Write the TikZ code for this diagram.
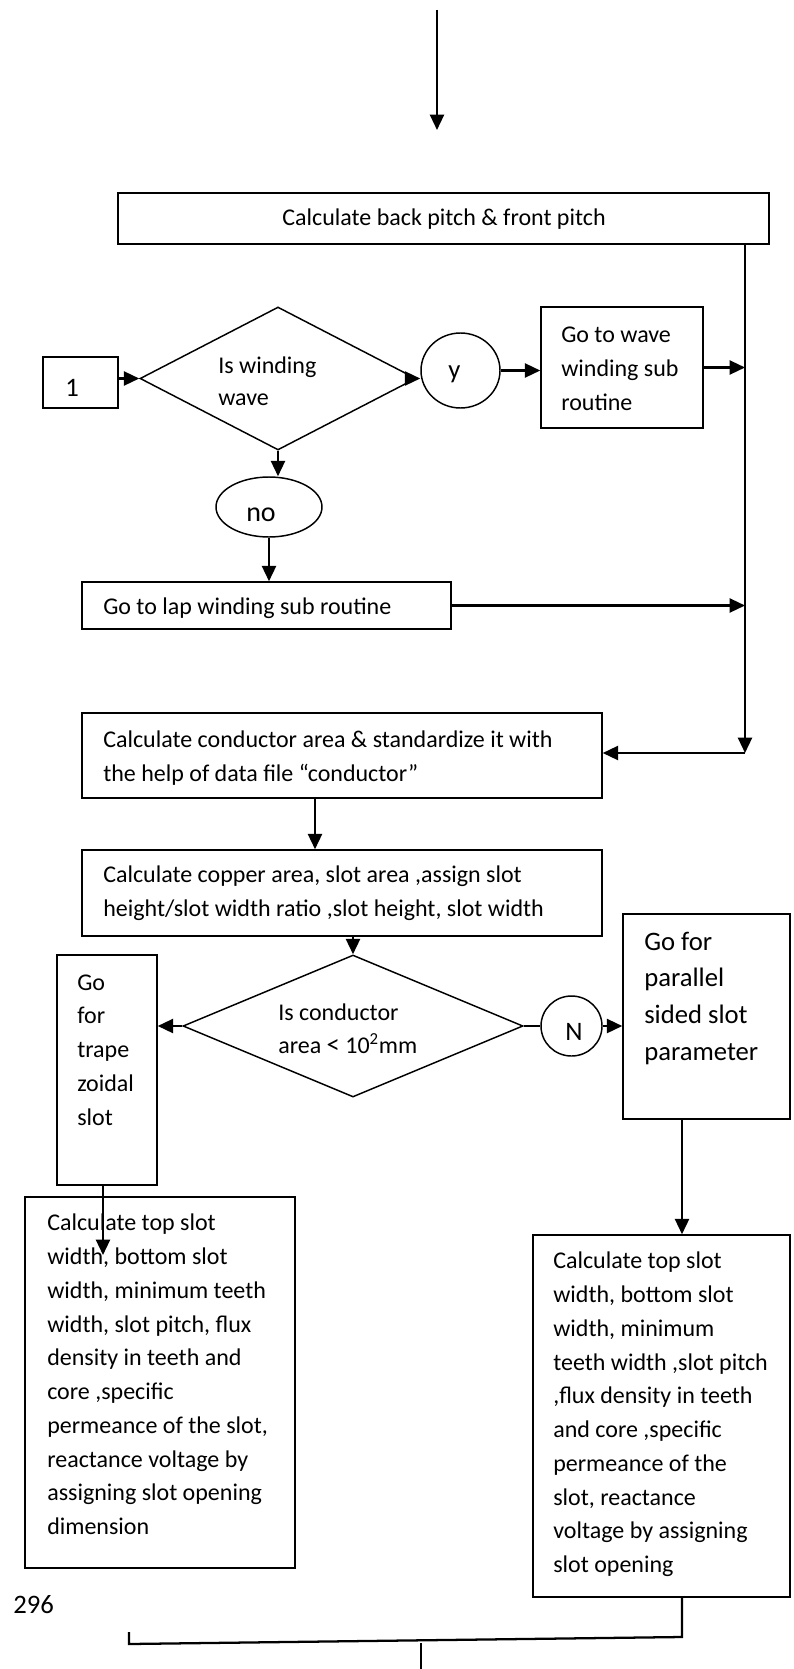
\documentclass[tikz,border=0pt]{standalone}
\usepackage{fontspec}
\setmainfont{Carlito}
\usetikzlibrary{arrows.meta,shapes.geometric}

\tikzset{
  box/.style={draw, line width=1.1pt, rectangle, inner sep=0pt},
  dia/.style={draw, line width=1.1pt, diamond, inner sep=0pt},
  oval/.style={draw, line width=1.1pt, ellipse, inner sep=0pt},
  conn/.style={line width=1.7pt},
  arr/.style={conn, -{Triangle[length=11.5pt,width=10.5pt]}},
  % multi-line texts are anchored at the baseline of their last line
  txt/.style={inner sep=0pt, anchor=base west, align=left,
              font=\fontsize{18}{25.3}\selectfont},
  bigtxt/.style={inner sep=0pt, anchor=base west, align=left,
              font=\fontsize{20}{27.5}\selectfont}
}

\begin{document}
\begin{tikzpicture}[x=0.75pt,y=-0.75pt]
\fill[white] (0,0) rectangle (793,1669);
\useasboundingbox (0,0) rectangle (793,1669);

% ---- shapes ----
\node[box, minimum width=488.25pt, minimum height=38.25pt] (pitch) at (443.5,218.5) {};
\node[box, minimum width=56.25pt, minimum height=38.25pt] (one) at (80.5,382.5) {};
\node[dia, minimum width=207pt, minimum height=107.25pt] (isw) at (278,378.5) {};
\node[oval, minimum width=59.25pt, minimum height=56.25pt] (yes) at (460.5,370.5) {};
\node[box, minimum width=121.5pt, minimum height=90.75pt] (wave) at (622,367.5) {};
\node[oval, minimum width=79.5pt, minimum height=45pt] (no) at (269,507) {};
\node[box, minimum width=276.75pt, minimum height=35.25pt] (lap) at (266.5,605.5) {};
\node[box, minimum width=390pt, minimum height=63.75pt] (cond) at (342,755.5) {};
\node[box, minimum width=390pt, minimum height=64.5pt] (copper) at (342,893) {};
\node[dia, minimum width=255pt, minimum height=106.5pt] (isc) at (353,1026) {};
\node[box, minimum width=75pt, minimum height=172.5pt] (trap) at (107,1070) {};
\node[oval, minimum width=45.75pt, minimum height=45pt] (nn) at (571.5,1026) {};
\node[box, minimum width=125.25pt, minimum height=153.75pt] (para) at (706.5,1016.5) {};
\node[box, minimum width=202.5pt, minimum height=278.25pt] (trapcalc) at (160,1382.5) {};
\node[box, minimum width=192.75pt, minimum height=271.5pt] (paracalc) at (661.5,1416) {};

% ---- texts ----
\node[txt, anchor=base] (tpitch) at (444,226) {Calculate back pitch \& front pitch};
\node[bigtxt] (tone) at (65,396) {1};
\node[txt, font=\fontsize{18}{24}\selectfont] (tisw) at (218,405) {Is winding\\wave};
\node[bigtxt] (tyes) at (448,378) {y};
\node[txt, font=\fontsize{18}{25.5}\selectfont] (twave) at (561,410) {Go to wave\\winding sub\\routine};
\node[bigtxt, font=\fontsize{21}{27}\selectfont] (tno) at (246,521) {no};
\node[txt] (tlap) at (103,614) {Go to lap winding sub routine};
\node[txt, font=\fontsize{18}{24.8}\selectfont] (tcond) at (103,781) {Calculate conductor area \& standardize it with\\the help of data file “conductor”};
\node[txt, font=\fontsize{18}{24.8}\selectfont] (tcopper) at (103,916) {Calculate copper area, slot area ,assign slot\\height/slot width ratio ,slot height, slot width};
\node[txt, font=\fontsize{18}{24.5}\selectfont] (tisc) at (278,1053) {Is conductor\\area {\fontsize{20}{24}\selectfont<} 10\textsuperscript{2}mm};
\node[txt] (ttrap) at (77,1125) {Go\\for\\trape\\zoidal\\slot};
\node[bigtxt] (tnn) at (565,1040) {N};
\node[bigtxt] (tpara) at (644,1060) {Go for\\parallel\\sided slot\\parameter};
\node[txt] (ttrapcalc) at (47,1534.5) {Calculate top slot\\width, bottom slot\\width, minimum teeth\\width, slot pitch, flux\\density in teeth and\\core ,specific\\permeance of the slot,\\reactance voltage by\\assigning slot opening\\dimension};
\node[txt] (tparacalc) at (553,1572.5) {Calculate top slot\\width, bottom slot\\width, minimum\\teeth width ,slot pitch\\,flux density in teeth\\and core ,specific\\permeance of the\\slot, reactance\\voltage by assigning\\slot opening};
\node[bigtxt] (tpage) at (13,1613) {296};

% ---- connector points ----
\coordinate (in0) at (437,10);
\coordinate (in1) at (437,130);
\coordinate (rail) at (745,753);
\coordinate (cc) at (315,850);
\coordinate (tdrop) at (103,1255);
\coordinate (j1) at (682,1637);
\coordinate (j2) at (129,1644);
\coordinate (j3) at (129,1632);
\coordinate (o0) at (421,1643);
\coordinate (o1) at (421,1669);

% ---- connectors ----
\draw[arr] (in0) -- (in1);
\draw[arr] (pitch.south -| rail) -- (rail);
\draw[arr] (rail) -- (cond.east |- rail);
\draw[arr] (one.east |- isw.west) -- (isw.west);
\draw[arr] (isw.east) -- (isw.east -| yes.west);
\draw[arr] (yes.east) -- (yes.east -| wave.west);
\draw[arr] (wave.east) -- (wave.east -| rail);
\draw[arr] (isw.south) -- (isw.south |- no.north);
\draw[arr] (no.south) -- (no.south |- lap.north);
\draw[arr] (lap.east) -- (lap.east -| rail);
\draw[arr] (cond.south -| cc) -- (copper.north -| cc);
\draw[arr] (copper.south -| isc.north) -- (isc.north);
\draw[arr] (isc.west) -- (isc.west -| trap.east);
\draw[conn] (isc.east) -- (nn.west);
\draw[arr] (nn.east) -- (nn.east -| para.west);
\draw[arr] (para.south -| j1) -- (paracalc.north -| j1);
\draw[arr] (trap.south -| tdrop) -- (tdrop);
\draw[conn] (paracalc.south -| j1) -- (j1) -- (j2) -- (j3);
\draw[conn] (o0) -- (o1);
\end{tikzpicture}
\end{document}
